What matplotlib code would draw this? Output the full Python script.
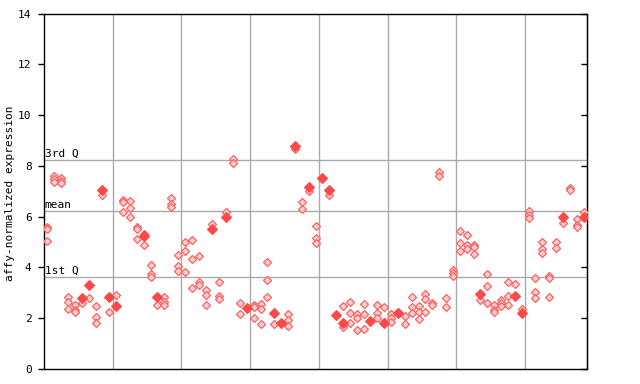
import matplotlib
matplotlib.use("Agg")
import matplotlib.pyplot as plt

# replicate values per sample (hollow markers)
hollow_values = [
    [5.61, 5.51, 5.05], [7.61, 7.48, 7.37], [7.53, 7.41, 7.31], [2.85, 2.63, 2.37],
    [2.52, 2.33, 2.24], [2.59], [2.79], [2.48, 2.04, 1.80], [6.85], [2.24],
    [2.90], [6.65, 6.58, 6.19], [6.61, 6.34, 5.98], [5.61, 5.52, 5.11],
    [5.31, 4.88], [4.09, 3.73, 3.64], [2.51], [2.83, 2.65, 2.54],
    [6.73, 6.49, 6.37], [4.47, 4.07, 3.85],
    [5.00, 4.65, 3.82], [5.09, 4.32, 3.18], [4.44, 3.44, 3.30], [3.10, 2.90, 2.51],
    [5.70], [3.42, 2.89, 2.76], [6.19], [8.27, 8.11], [2.59, 2.16], [],
    [2.52, 2.46, 2.00], [2.55, 2.35, 1.76], [4.21, 3.50, 2.83], [1.76], [],
    [2.15, 1.92, 1.68], [8.66], [6.57, 6.30], [7.02], [5.62, 5.15, 4.96],
    [], [6.85], [], [2.48, 1.67], [2.63, 2.19, 1.80], [2.15, 2.00, 1.53],
    [2.55, 2.15, 1.56], [], [2.51, 2.19, 2.00], [2.43, 1.87],
    [2.15, 2.00, 1.87], [2.26], [2.09, 1.76], [2.83, 2.43, 2.19], [2.48, 2.24, 1.96],
    [2.94, 2.75, 2.24], [2.59, 2.51], [7.75, 7.61], [2.79, 2.43], [3.90, 3.77, 3.67],
    [5.44, 4.95, 4.64], [5.27, 4.88, 4.72], [4.88, 4.80, 4.52], [2.71],
    [3.73, 3.26, 2.59], [2.51, 2.31, 2.24], [2.71, 2.59, 2.47], [3.42, 2.87, 2.51],
    [3.34], [2.35],
    [6.21, 6.05, 5.93], [3.58, 3.02, 2.79], [4.99, 4.72, 4.56], [3.66, 3.60, 2.83],
    [4.99, 4.76], [5.75], [7.12, 7.06], [5.90, 5.66, 5.58], [6.19],
]
# highlighted values per sample (filled markers)
filled_values = [
    [], [], [], [], [], [2.81], [3.31], [], [7.03], [2.85],
    [2.49], [], [], [], [5.24], [], [2.85], [], [], [],
    [], [], [], [], [5.51], [], [5.99], [], [], [2.39],
    [], [], [], [2.22], [1.83], [], [8.77], [], [7.15], [],
    [7.54], [7.03], [2.14], [1.82], [], [], [], [1.89], [], [1.80],
    [], [2.19], [], [], [], [], [], [], [], [],
    [], [], [], [2.97], [], [], [], [], [2.87], [2.19],
    [], [], [], [], [], [5.97], [], [], [5.97],
]
yticks = [0, 2, 4, 6, 8, 10, 12, 14]
group_bounds = [9.5, 19.5, 29.5, 39.5, 49.5, 59.5, 69.5]
stats = {"3rd Q": 8.23, "mean": 6.21, "1st Q": 3.63}

fig = plt.figure(figsize=(6.4, 3.84), dpi=100)
ax = fig.add_axes([44 / 640, 15 / 384, 543 / 640, 355.5 / 384])

mono = "DejaVu Sans Mono"
grid_c = "#aaaaaa"

for xb in group_bounds:
    ax.axvline(xb, color=grid_c, lw=1, zorder=1)
for label, v in stats.items():
    ax.axhline(v, color=grid_c, lw=1, zorder=1)
    ax.text(-0.4, v + 0.05, label, fontsize=8, family=mono, ha="left",
            va="bottom", color="#000000", zorder=2)

hx, hy, fx, fy = [], [], [], []
for i, vals in enumerate(hollow_values):
    for v in vals:
        hx.append(i)
        hy.append(v)
for i, vals in enumerate(filled_values):
    for v in vals:
        fx.append(i)
        fy.append(v)

ax.plot(hx, hy, linestyle="none", marker="D", markersize=4.2,
        markerfacecolor="#ffd0d0", markeredgecolor="#ff6060",
        markeredgewidth=0.9, zorder=3)
ax.plot(fx, fy, linestyle="none", marker="D", markersize=4.6,
        markerfacecolor="#ff4848", markeredgecolor="#ff4848",
        markeredgewidth=0.8, zorder=4)

ax.set_xlim(-0.5, 78.5)
ax.set_ylim(0, 14)
ax.set_xticks([])
ax.set_yticks(yticks)
ax.set_yticklabels([str(t) for t in yticks], family=mono, fontsize=8)
ax.tick_params(axis="y", direction="out", length=4, width=1, pad=5)
for sp in ax.spines.values():
    sp.set_color("black")
    sp.set_linewidth(1)

sec = ax.secondary_yaxis("right")
sec.set_yticks(yticks)
sec.set_yticklabels([])
sec.tick_params(axis="y", direction="in", length=4, width=1)

fig.text(10 / 640, 0.5 * (105 + 282) / 384 * 0 + (384 - 193) / 384,
         "affy-normalized expression", family=mono, fontsize=8,
         rotation=90, ha="center", va="center")

fig.savefig("out.png", dpi=100)
